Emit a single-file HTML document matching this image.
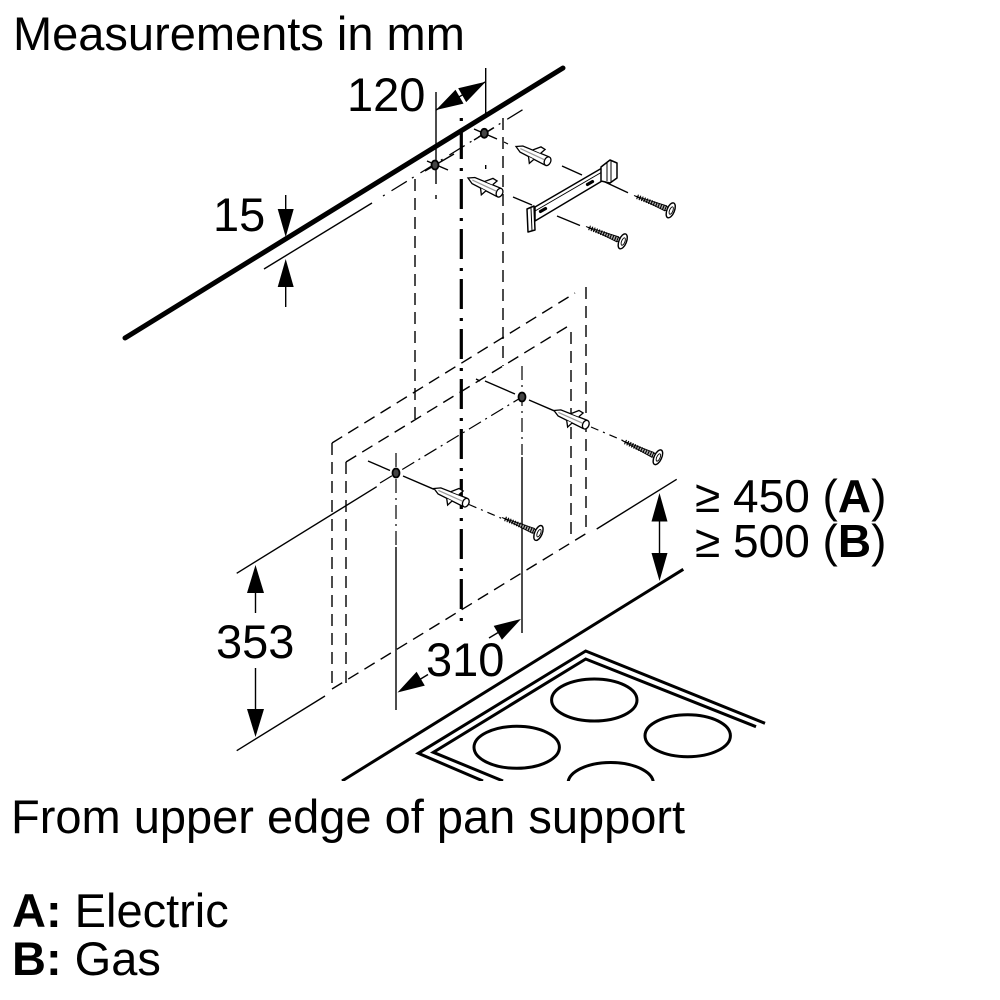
<!DOCTYPE html>
<html><head><meta charset="utf-8"><style>
html,body{margin:0;padding:0;background:#fff;width:1000px;height:1000px;overflow:hidden}
svg{display:block}
</style></head><body>
<svg width="1000" height="1000" viewBox="0 0 1000 1000" xmlns="http://www.w3.org/2000/svg" font-family="'Liberation Sans', Arial, sans-serif">
<defs>
<clipPath id="cl"><rect x="0" y="0" width="1000" height="781"/></clipPath>
</defs>
<rect width="1000" height="1000" fill="#fff"/>

<!-- texts -->
<g fill="#000" font-size="47">
<text x="13" y="50">Measurements in mm</text>
<text x="347" y="111">120</text>
<text x="213" y="231">15</text>
<text x="216" y="658">353</text>
<text x="426" y="676">310</text>
<text x="695" y="512" font-size="46">≥ 450 (<tspan font-weight="bold">A</tspan>)</text>
<text x="695" y="557" font-size="46">≥ 500 (<tspan font-weight="bold">B</tspan>)</text>
<text x="11" y="833">From upper edge of pan support</text>
<text x="12" y="927"><tspan font-weight="bold">A:</tspan> Electric</text>
<text x="12" y="975"><tspan font-weight="bold">B:</tspan> Gas</text>
</g>

<g stroke="#000" fill="none">
<!-- wall/ceiling thick line -->
<line x1="125" y1="338" x2="563" y2="68" stroke-width="5" stroke-linecap="round"/>
<!-- 15 offset line -->
<line x1="264" y1="269" x2="372" y2="203" stroke-width="1.4"/>
<line x1="383" y1="196" x2="527" y2="107" stroke-width="1.3" stroke-dasharray="2 8 18 6"/>

<!-- chimney dashed verticals -->
<line x1="415" y1="179" x2="415" y2="420" stroke-width="1.4" stroke-dasharray="12 7"/>
<line x1="503" y1="118" x2="503" y2="366" stroke-width="1.4" stroke-dasharray="12 7"/>

<!-- hood dashed outline -->
<line x1="332" y1="443" x2="575" y2="293" stroke-width="1.4" stroke-dasharray="12 7"/>
<line x1="346" y1="462" x2="570" y2="325" stroke-width="1.4" stroke-dasharray="12 7"/>
<line x1="332" y1="443" x2="332" y2="688" stroke-width="1.4" stroke-dasharray="12 7"/>
<line x1="346" y1="462" x2="346" y2="683" stroke-width="1.4" stroke-dasharray="12 7"/>
<line x1="586" y1="287" x2="586" y2="533" stroke-width="1.4" stroke-dasharray="12 7"/>
<line x1="571" y1="332" x2="571" y2="537" stroke-width="1.4" stroke-dasharray="12 7"/>
<line x1="332" y1="689" x2="587" y2="533" stroke-width="1.4" stroke-dasharray="12 7"/>

<!-- thick center dash-dot -->
<line x1="461.3" y1="118" x2="461.3" y2="628" stroke-width="3.2" stroke-dasharray="30 9 3 8" stroke-dashoffset="39"/>

<!-- 120 dimension -->
<line x1="436" y1="92" x2="436" y2="184" stroke-width="1.4"/>
<line x1="436" y1="195" x2="436" y2="199" stroke-width="1.4"/>
<line x1="485.7" y1="68" x2="485.7" y2="117" stroke-width="1.4"/>
<line x1="485.7" y1="165" x2="485.7" y2="169" stroke-width="1.4"/>
<line x1="436" y1="110" x2="485.7" y2="81.7" stroke-width="1.4"/>
</g>
<g fill="#000" stroke="none">
<polygon points="436,110 463.5,103.6 455.5,89.7"/>
<polygon points="485.7,81.7 466.2,102.1 458.2,88.2"/>
<!-- 15 arrows -->
<polygon points="285.7,237 277.7,209 293.7,209"/>
<polygon points="285.7,259 277.7,287 293.7,287"/>
<!-- 353 arrows -->
<polygon points="255.5,565 247,593 264,593"/>
<polygon points="255.5,737 247,709 264,709"/>
<!-- 450 arrows -->
<polygon points="659.5,493 651.5,521.5 667.5,521.5"/>
<polygon points="659.5,581 651.5,553 667.5,553"/>
<!-- 310 arrows -->
<polygon points="397.5,692.5 424.8,685.6 416.6,671.8"/>
<polygon points="521,619 501.9,639.7 493.7,625.9"/>
</g>
<g stroke="#000" fill="none" stroke-width="1.4">
<line x1="285.7" y1="195" x2="285.7" y2="212"/>
<line x1="285.7" y1="284" x2="285.7" y2="307"/>
<line x1="255.5" y1="590" x2="255.5" y2="613"/>
<line x1="255.5" y1="668" x2="255.5" y2="712"/>
<line x1="659.5" y1="519" x2="659.5" y2="556"/>
<line x1="420" y1="679.4" x2="428" y2="674.5"/>
<line x1="489" y1="638" x2="499" y2="632"/>
<!-- 353 extension lines -->
<line x1="236.7" y1="573.3" x2="376.7" y2="486.7"/>
<line x1="236.7" y1="750.7" x2="325" y2="696"/>
<!-- 450 ext line -->
<line x1="596.7" y1="529" x2="676.7" y2="479.3"/>
<!-- hole connecting dash-dot -->
<line x1="380" y1="483" x2="522" y2="397" stroke-width="1.2" stroke-dasharray="14 5 2 5"/>
<!-- verticals through lower holes -->
<line x1="396" y1="453" x2="396" y2="545" stroke-width="1.2" stroke-dasharray="14 5 2 5"/>
<line x1="396" y1="547" x2="396" y2="710"/>
<line x1="522" y1="366" x2="522" y2="455" stroke-width="1.2" stroke-dasharray="14 5 2 5"/>
<line x1="522" y1="457" x2="522" y2="633"/>
<!-- perpendicular lines lower holes -->
<line x1="368" y1="461" x2="390" y2="470.5"/>
<line x1="403" y1="476" x2="434" y2="489.3"/>
<line x1="469" y1="504.5" x2="503" y2="519" stroke-width="1.2" stroke-dasharray="8 5 2 5"/>
<line x1="476" y1="379" x2="480" y2="381"/>
<line x1="485" y1="381" x2="515" y2="394"/>
<line x1="529" y1="400" x2="555" y2="411.2"/>
<line x1="591" y1="427" x2="624" y2="441" stroke-width="1.2" stroke-dasharray="8 5 2 5"/>
<!-- upper holes cross lines -->
<line x1="425" y1="171" x2="454" y2="154"/>
<line x1="427" y1="161" x2="448" y2="170"/>
<line x1="474" y1="140" x2="494" y2="127.7"/>
<line x1="474" y1="129" x2="497" y2="139"/>
<line x1="504" y1="142" x2="508" y2="144" stroke-width="1.2"/>
<line x1="562" y1="166" x2="582" y2="175"/>
<line x1="513" y1="197" x2="532" y2="205"/>
<line x1="605" y1="182" x2="628" y2="192.7"/>
<line x1="557" y1="216" x2="580" y2="225.5"/>
</g>

<!-- holes -->
<g fill="#444" stroke="#000" stroke-width="1.8">
<ellipse cx="435" cy="165" rx="3.5" ry="4.5"/>
<ellipse cx="484.3" cy="133.3" rx="3.5" ry="4.5"/>
<ellipse cx="396" cy="473" rx="3.5" ry="4.5"/>
<ellipse cx="522" cy="397" rx="3.5" ry="4.5"/>
</g>

<!-- plugs -->
<g stroke="#000" stroke-width="1.1">
<g transform="translate(516,146.5) rotate(25) scale(1.2)">
<path d="M0,0 L5,-2.8 L28,-3.8 L28,3.8 L5,2.8 Z" fill="#fff"/>
<ellipse cx="29" cy="0" rx="2.6" ry="3.8" fill="#fff"/>
<line x1="4" y1="0" x2="26" y2="0" stroke="#999" stroke-width="1"/>
<path d="M14,-3.4 L19,-8.5 L23,-8 L21,-3.6" fill="#fff"/>
<path d="M13,3.2 L16,8 L18,3.4" fill="#fff"/>
</g>
<g transform="translate(468,178) rotate(25) scale(1.2)">
<path d="M0,0 L5,-2.8 L28,-3.8 L28,3.8 L5,2.8 Z" fill="#fff"/>
<ellipse cx="29" cy="0" rx="2.6" ry="3.8" fill="#fff"/>
<line x1="4" y1="0" x2="26" y2="0" stroke="#999" stroke-width="1"/>
<path d="M14,-3.4 L19,-8.5 L23,-8 L21,-3.6" fill="#fff"/>
<path d="M13,3.2 L16,8 L18,3.4" fill="#fff"/>
</g>
<g transform="translate(434,488.5) rotate(24) scale(1.2)">
<path d="M0,0 L5,-2.8 L28,-3.8 L28,3.8 L5,2.8 Z" fill="#fff"/>
<ellipse cx="29" cy="0" rx="2.6" ry="3.8" fill="#fff"/>
<line x1="4" y1="0" x2="26" y2="0" stroke="#999" stroke-width="1"/>
<path d="M14,-3.4 L19,-8.5 L23,-8 L21,-3.6" fill="#fff"/>
<path d="M13,3.2 L16,8 L18,3.4" fill="#fff"/>
</g>
<g transform="translate(554,410.5) rotate(24) scale(1.2)">
<path d="M0,0 L5,-2.8 L28,-3.8 L28,3.8 L5,2.8 Z" fill="#fff"/>
<ellipse cx="29" cy="0" rx="2.6" ry="3.8" fill="#fff"/>
<line x1="4" y1="0" x2="26" y2="0" stroke="#999" stroke-width="1"/>
<path d="M14,-3.4 L19,-8.5 L23,-8 L21,-3.6" fill="#fff"/>
<path d="M13,3.2 L16,8 L18,3.4" fill="#fff"/>
</g>
</g>

<!-- screws -->
<g stroke="#000">
<g transform="translate(634,195.5) rotate(22) scale(1.1)">
<path d="M0,0 L31,-2.4 L31,2.4 Z" fill="#aaa" stroke-width="0.8"/>
<line x1="3" y1="0" x2="31" y2="0" stroke-width="4.4" stroke-dasharray="1 1.3"/>
<rect x="31" y="-1.8" width="3" height="3.6" fill="#fff" stroke-width="0.9"/>
<ellipse cx="36" cy="0" rx="3.4" ry="7.2" fill="#fff" stroke-width="1.3"/>
<ellipse cx="36.5" cy="0" rx="1.5" ry="3.6" fill="none" stroke-width="0.8"/>
</g>
<g transform="translate(586,226.5) rotate(22) scale(1.1)">
<path d="M0,0 L31,-2.4 L31,2.4 Z" fill="#aaa" stroke-width="0.8"/>
<line x1="3" y1="0" x2="31" y2="0" stroke-width="4.4" stroke-dasharray="1 1.3"/>
<rect x="31" y="-1.8" width="3" height="3.6" fill="#fff" stroke-width="0.9"/>
<ellipse cx="36" cy="0" rx="3.4" ry="7.2" fill="#fff" stroke-width="1.3"/>
<ellipse cx="36.5" cy="0" rx="1.5" ry="3.6" fill="none" stroke-width="0.8"/>
</g>
<g transform="translate(502,517.5) rotate(23) scale(1.1)">
<path d="M0,0 L31,-2.4 L31,2.4 Z" fill="#aaa" stroke-width="0.8"/>
<line x1="3" y1="0" x2="31" y2="0" stroke-width="4.4" stroke-dasharray="1 1.3"/>
<rect x="31" y="-1.8" width="3" height="3.6" fill="#fff" stroke-width="0.9"/>
<ellipse cx="36" cy="0" rx="3.4" ry="7.2" fill="#fff" stroke-width="1.3"/>
<ellipse cx="36.5" cy="0" rx="1.5" ry="3.6" fill="none" stroke-width="0.8"/>
</g>
<g transform="translate(622,440.5) rotate(25) scale(1.1)">
<path d="M0,0 L31,-2.4 L31,2.4 Z" fill="#aaa" stroke-width="0.8"/>
<line x1="3" y1="0" x2="31" y2="0" stroke-width="4.4" stroke-dasharray="1 1.3"/>
<rect x="31" y="-1.8" width="3" height="3.6" fill="#fff" stroke-width="0.9"/>
<ellipse cx="36" cy="0" rx="3.4" ry="7.2" fill="#fff" stroke-width="1.3"/>
<ellipse cx="36.5" cy="0" rx="1.5" ry="3.6" fill="none" stroke-width="0.8"/>
</g>
</g>

<!-- bracket -->
<g stroke="#000" stroke-width="1.5" fill="#fff" stroke-linejoin="round">
<polygon points="535,207 602,168 602,181 535,221"/>
<line x1="535" y1="211" x2="602" y2="172" stroke-width="1"/>
<polygon points="601,167 610,160 617,163 617,178 610,183 601,181"/>
<line x1="607" y1="163" x2="607" y2="181" stroke-width="1"/>
<line x1="611" y1="161" x2="611" y2="182" stroke-width="1"/>
<polygon points="527,209 534,206 535,230 528,232"/>
<line x1="531" y1="208" x2="532" y2="231" stroke-width="1"/>
<g fill="#000" stroke="none">
<rect x="-4.5" y="-1.6" width="9" height="3.2" rx="1.5" transform="translate(543,210) rotate(-30)"/>
<rect x="-4.5" y="-1.6" width="9" height="3.2" rx="1.5" transform="translate(590,183) rotate(-30)"/>
</g>
</g>

<!-- countertop & cooktop -->
<g stroke="#000" fill="none" stroke-width="3" clip-path="url(#cl)">
<line x1="342" y1="781" x2="683.3" y2="569.3"/>
<polyline points="483,781 418.3,753.3 585.7,651 765,723.3" stroke-linejoin="miter"/>
<polyline points="503,781 433.3,752.3 585.7,659 756,726.7" stroke-linejoin="miter"/>
<ellipse cx="594.3" cy="700" rx="42.7" ry="21"/>
<ellipse cx="516.7" cy="747.3" rx="42.7" ry="21"/>
<ellipse cx="687.7" cy="735.7" rx="42.7" ry="21"/>
<ellipse cx="610.7" cy="783.5" rx="42.7" ry="21"/>
</g>
</svg>
</body></html>
